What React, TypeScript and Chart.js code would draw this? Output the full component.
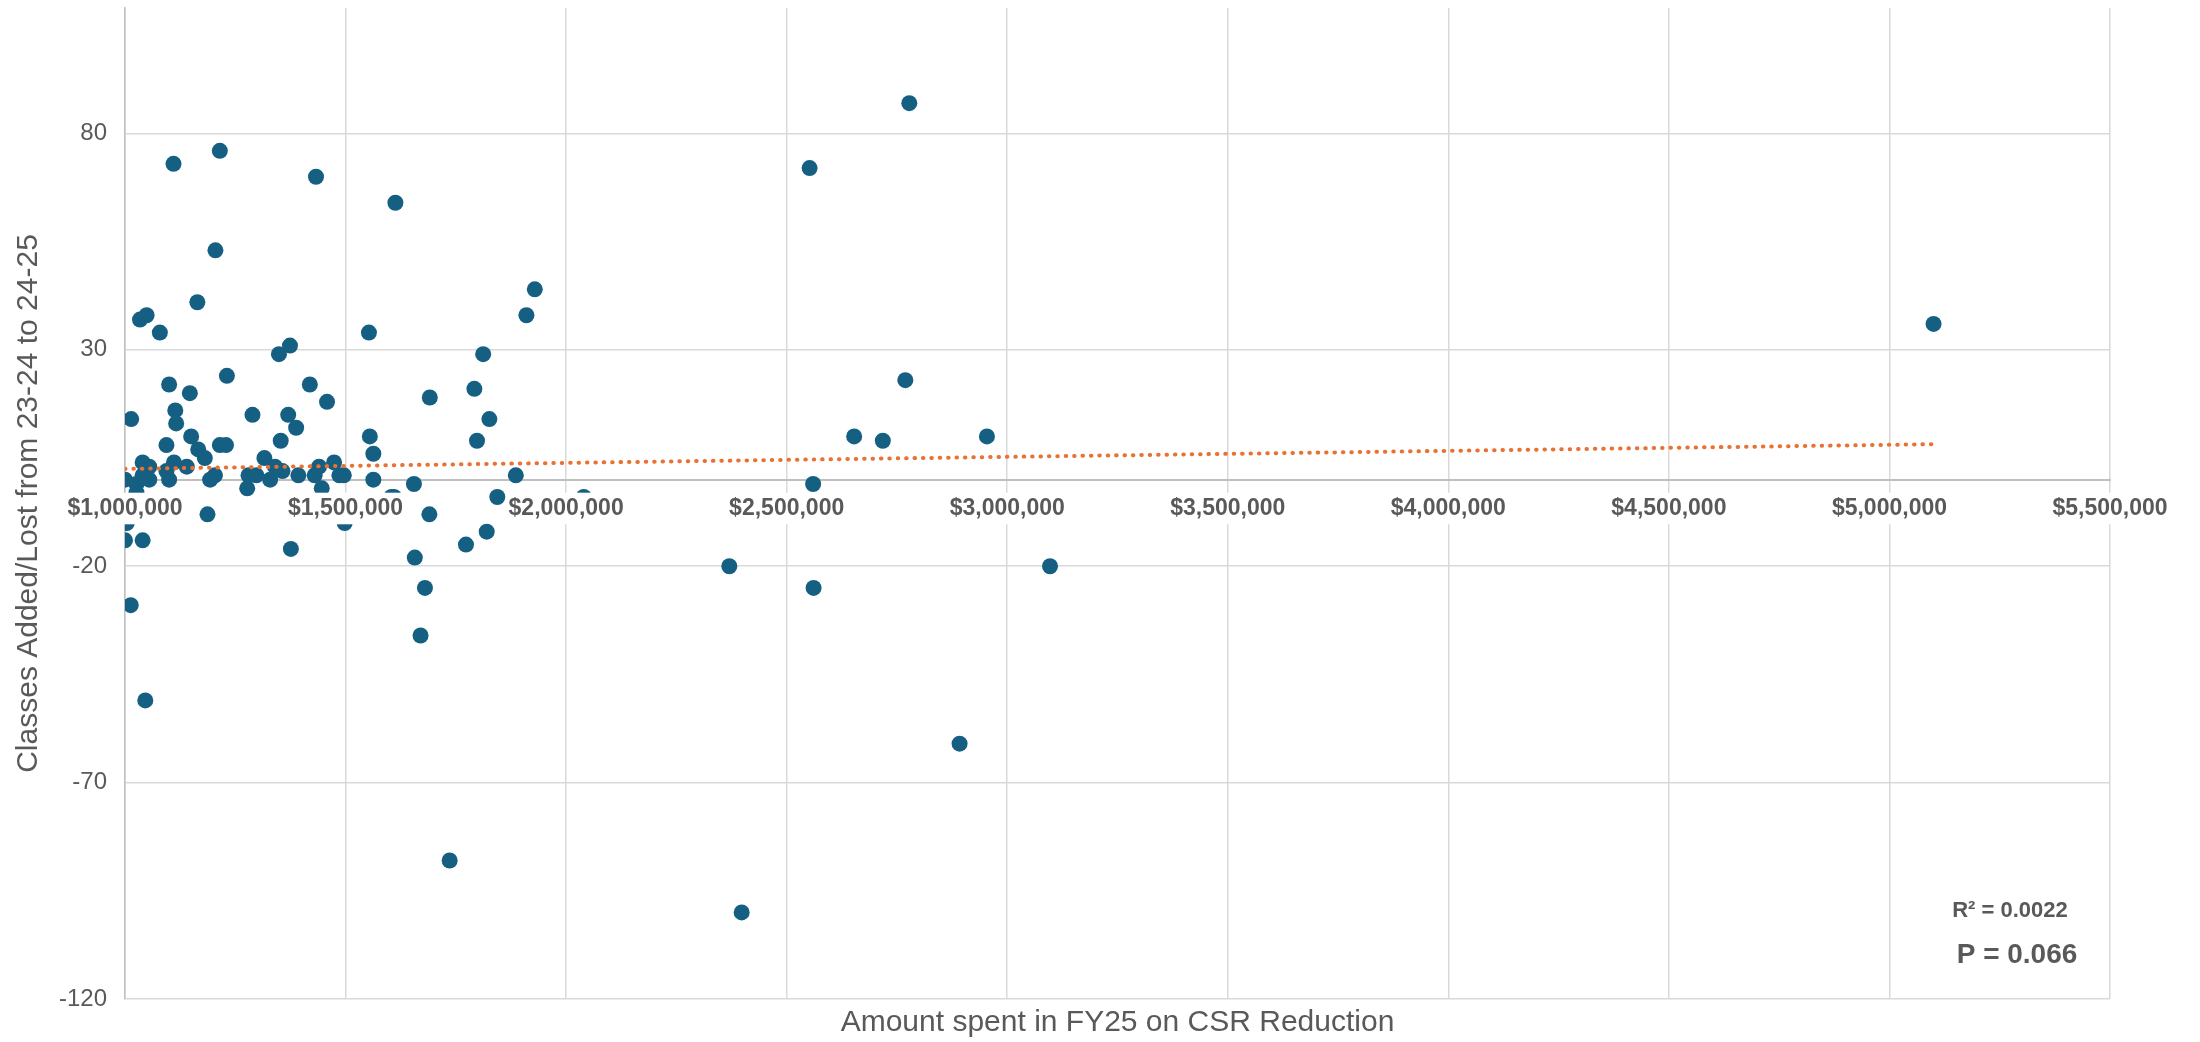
import React, { useEffect, useRef } from "react";
import { Chart, registerables } from "chart.js";

Chart.register(...registerables);

// Amount spent in FY25 on CSR Reduction ($)
const spend: number[] = [
  1215000, 1110000, 1433000, 1613000, 1205000, 1164000, 1929000, 1910000, 1034000, 1049000,
  1079000, 1553000, 1374000, 1349000, 1812000, 1231000, 1100000, 1147000, 1419000, 1458000,
  1691000, 1792000, 1014000, 1114000, 1116000, 1289000, 1370000, 1388000, 1826000, 1150000,
  1353000, 1555000, 1798000, 1094000, 1166000, 1181000, 1215000, 1229000, 1316000, 1340000,
  1357000, 1040000, 1055000, 1111000, 1140000, 1094000, 1000000, 1026000, 1055000, 1040000,
  1026000, 1100000, 1193000, 1204000, 1280000, 1298000, 1329000, 1277000, 1393000, 1430000,
  1440000, 1474000, 1446000, 1486000, 1496000, 1563000, 1563000, 1604000, 1610000, 1655000,
  1886000, 1844000, 1690000, 1187000, 1004000, 1000000, 1040000, 1376000, 1498000, 1657000,
  1773000, 1820000, 2040000, 1680000, 1013000, 1670000, 1046000, 1736000, 2778000, 2552000,
  2769000, 2653000, 2718000, 2954000, 2560000, 2370000, 2561000, 3097000, 2892000, 2398000,
  5100000,
];

// Classes Added/Lost from 23-24 to 24-25
const classChange: number[] = [
  76, 73, 70, 64, 53, 41, 44, 38, 37, 38,
  34, 34, 31, 29, 29, 24, 22, 20, 22, 18,
  19, 21, 14, 16, 13, 15, 15, 12, 14, 10,
  9, 10, 9, 8, 7, 5, 8, 8, 5, 3,
  2, 4, 3, 4, 3, 2, 0, -1, 0, 1,
  -3, 0, 0, 1, 1, 1, 0, -2, 1, 1,
  3, 4, -2, 1, 1, 6, 0, -4, -4, -1,
  1, -4, -8, -8, -10, -14, -14, -16, -10, -18,
  -15, -12, -4, -25, -29, -36, -51, -88, 87, 72,
  23, 10, 9, 10, -1, -20, -25, -20, -61, -100,
  36,
];

// Linear trendline end points (as shown)
const trendX: number[] = [1000000, 5100000];
const trendY: number[] = [2.5, 8.2];

const xTicks: number[] = [1000000, 1500000, 2000000, 2500000, 3000000, 3500000, 4000000, 4500000, 5000000, 5500000];
const yTicks: number[] = [-120, -70, -20, 30, 80];
const statLines: string[] = ["R² = 0.0022", "P = 0.066"];

const FONT = "'Liberation Sans', Arial, sans-serif";
const TEXT = "#595959";
const GRID = "#d9d9d9";

const statsPlugin = {
  id: "stats",
  afterDraw(chart: any) {
    const { ctx, chartArea } = chart;
    ctx.save();
    ctx.fillStyle = TEXT;
    ctx.textAlign = "center";
    ctx.textBaseline = "middle";
    ctx.font = `bold 22px ${FONT}`;
    ctx.fillText(statLines[0], chartArea.right - 100, chartArea.bottom - 88);
    ctx.font = `bold 28px ${FONT}`;
    ctx.fillText(statLines[1], chartArea.right - 93, chartArea.bottom - 44);
    ctx.restore();
  },
};

const money = (v: number) => "$" + Math.round(v).toLocaleString("en-US");

export default function App() {
  const ref = useRef<HTMLCanvasElement | null>(null);

  useEffect(() => {
    if (!ref.current) return;
    const points = spend.map((x, i) => ({ x, y: classChange[i] }));
    const trend = trendX.map((x, i) => ({ x, y: trendY[i] }));

    const chart = new Chart(ref.current, {
      type: "scatter",
      data: {
        datasets: [
          {
            label: "Trend",
            type: "line",
            data: trend,
            borderColor: "#E97132",
            borderWidth: 4,
            borderDash: [0.5, 7.9],
            borderCapStyle: "round",
            pointRadius: 0,
            fill: false,
            order: 0,
          } as any,
          {
            label: "Districts",
            data: points,
            backgroundColor: "#156082",
            borderColor: "#156082",
            pointRadius: 8,
            pointBorderWidth: 0,
            order: 1,
          },
        ],
      },
      options: {
        responsive: false,
        animation: false,
        layout: { padding: { top: 0, right: 90, left: 0, bottom: 0 } },
        plugins: {
          legend: { display: false },
          tooltip: { enabled: false },
        },
        scales: {
          x: {
            type: "linear",
            position: "bottom",
            min: 1000000,
            max: 5500000,
            afterBuildTicks: (axis: any) => {
              axis.ticks = xTicks.map((v) => ({ value: v }));
            },
            afterFit: (axis: any) => {
              axis.height = 43;
              axis.paddingLeft = 0;
              axis.paddingRight = 0;
            },
            ticks: { display: false },
            grid: { color: GRID, lineWidth: 1.5, drawTicks: false },
            border: { display: false },
            title: {
              display: true,
              text: "Amount spent in FY25 on CSR Reduction",
              color: TEXT,
              font: { family: FONT, size: 30 },
              padding: { top: 0, bottom: 1 },
            },
          },
          xLabels: {
            type: "linear",
            axis: "x",
            position: { y: 0 } as any,
            min: 1000000,
            max: 5500000,
            afterBuildTicks: (axis: any) => {
              axis.ticks = xTicks.map((v) => ({ value: v }));
            },
            afterFit: (axis: any) => {
              axis.paddingLeft = 0;
              axis.paddingRight = 0;
              axis.paddingTop = 0;
              axis.paddingBottom = 0;
            },
            grid: { display: false, drawTicks: false },
            border: { display: true, color: "#bfbfbf", width: 2 },
            ticks: {
              z: 1,
              autoSkip: false,
              maxRotation: 0,
              padding: 15,
              color: TEXT,
              font: { family: FONT, size: 23, weight: "bold" },
              showLabelBackdrop: true,
              backdropColor: "#ffffff",
              backdropPadding: 2,
              callback: (v: any) => money(Number(v)),
            },
          } as any,
          y: {
            type: "linear",
            min: -120,
            max: 109,
            afterBuildTicks: (axis: any) => {
              axis.ticks = yTicks.map((v) => ({ value: v }));
            },
            afterFit: (axis: any) => {
              axis.width = 125;
              axis.paddingTop = 0;
              axis.paddingBottom = 0;
            },
            grid: { color: GRID, lineWidth: 1.5, drawTicks: false },
            border: { display: true, color: "#bfbfbf", width: 1.5 },
            ticks: {
              padding: 18,
              color: TEXT,
              font: { family: FONT, size: 24 },
            },
            title: {
              display: true,
              text: "Classes Added/Lost from 23-24 to 24-25",
              color: TEXT,
              font: { family: FONT, size: 30 },
              padding: { top: 11, bottom: 0 },
            },
          },
        },
      },
      plugins: [statsPlugin],
    });
    return () => chart.destroy();
  }, []);

  return (
    <div style={{ position: "absolute", left: 0, top: 0, width: 2200, height: 1042, background: "#fff" }}>
      <canvas ref={ref} width={2200} height={1042} style={{ display: "block", width: 2200, height: 1042 }} />
    </div>
  );
}
